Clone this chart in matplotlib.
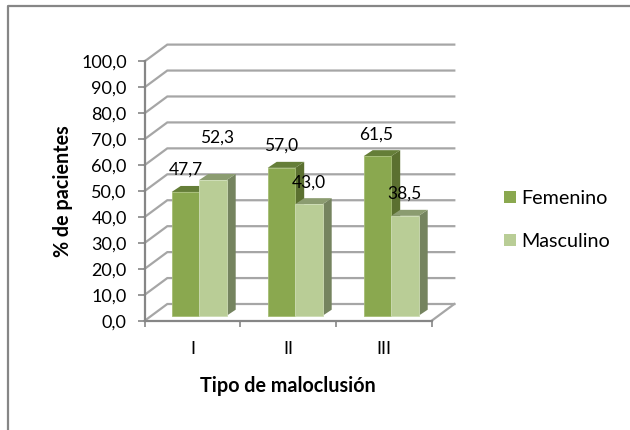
import matplotlib
matplotlib.use("Agg")
import matplotlib.pyplot as plt
from matplotlib.patches import Polygon, Rectangle
from matplotlib.lines import Line2D

categories = ["I", "II", "III"]
femenino = [47.7, 57.0, 61.5]
masculino = [52.3, 43.0, 38.5]
series_names = ["Femenino", "Masculino"]
y_ticks = list(range(0, 101, 10))

W, H = 630, 430
plt.rcParams["font.family"] = ["Lato", "DejaVu Sans"]
fig = plt.figure(figsize=(W / 100, H / 100), dpi=100)
L, R, T, B = 144.7, 431.7, 61.3, 320.7
ax = fig.add_axes([L / W, 1 - B / H, (R - L) / W, (B - T) / H])
ax.set_xlim(0, 3)
ax.set_ylim(0, 100)
ax.patch.set_visible(False)
PX = 3 / (R - L)
PY = 100 / (B - T)
GRID = "#a6a6a6"
AX = "#868686"

# chart border (top and left only)
fig.add_artist(Line2D([7.5 / W, 7.5 / W, 1], [0, 1 - 6 / H, 1 - 6 / H], color=AX, lw=1.6))

# back wall gridlines and side wall
wx, wy = 22.6 * PX, 16.7 * PY
for v in y_ticks:
    ax.plot([0, wx, 3 + wx], [v, v + wy, v + wy], color=GRID, lw=1.6,
            clip_on=False, zorder=1, solid_joinstyle="miter")
ax.plot([3, 3 + wx], [0, wy], color=GRID, lw=1.6, clip_on=False, zorder=1)

for s in ["top", "right"]:
    ax.spines[s].set_visible(False)
for s in ["left", "bottom"]:
    ax.spines[s].set_color(AX)
    ax.spines[s].set_linewidth(1.6)
    ax.spines[s].set_zorder(2)
ax.set_yticks(y_ticks)
ax.set_yticklabels([f"{v:.1f}".replace(".", ",") for v in y_ticks], fontsize=13, color="black")
ax.set_xticks([0, 1, 2, 3])
ax.set_xticklabels([])
ax.set_xticks([0.5, 1.5, 2.5], minor=True)
ax.set_xticklabels(categories, minor=True, fontsize=13)
ax.tick_params(axis="x", which="major", length=4.5, color=AX, width=1.2, direction="out")
ax.tick_params(axis="x", which="minor", length=0, pad=14.5)
ax.tick_params(axis="y", length=5, color=AX, width=1.2, pad=8)
ax.set_ylabel("% de pacientes", fontsize=14.2, fontweight="bold", labelpad=6)
ax.set_xlabel("Tipo de maloclusión", fontsize=14.2, fontweight="bold", labelpad=14)

# 3D bars
bx, by = 7.0 * PX, 5.0 * PY      # front face offset from front axis
dx, dy = 9.0 * PX, 6.0 * PY      # bar depth
bw = 27.5 * PX
first = (171.7 - L) * PX
step = 96.0 * PX
styles = [("#8aa84f", "#a5bd74", "#5b7030", "#657e38"),
          ("#b9cd96", "#cddcb4", "#75845f", "#8b9c70")]

def bar3d(x, v, front, edge, side, top, z):
    y0, y1 = by, v + by
    ax.add_patch(Polygon([(x + bw, y0), (x + bw + dx, y0 + dy), (x + bw + dx, y1 + dy), (x + bw, y1)],
                         fc=side, ec="none", clip_on=False, zorder=z))
    ax.add_patch(Polygon([(x, y1), (x + dx, y1 + dy), (x + bw + dx, y1 + dy), (x + bw, y1)],
                         fc=top, ec="none", clip_on=False, zorder=z))
    ax.add_patch(Rectangle((x, y0), bw, v, fc=front, ec=edge, lw=0.6, clip_on=False, zorder=z + 0.1))

# label offsets from bar top, in pixels
offsets = [[(0, 22), (3.7, 42)], [(0, 22), (0, 22)], [(-1, 22), (-1, 22)]]
for i in range(3):
    x = first + i * step
    bar3d(x, femenino[i], *styles[0], 3)
    bar3d(x + bw, masculino[i], *styles[1], 4)
    for k, v in enumerate([femenino[i], masculino[i]]):
        ox, oy = offsets[i][k]
        ax.text(x + (k + 0.5) * bw + ox * PX, v + by + oy * PY, f"{v:.1f}".replace(".", ","),
                ha="center", va="center", fontsize=12.5, color="black", zorder=6, clip_on=False)

# legend
handles = [Rectangle((0, 0), 1, 1, fc=styles[0][0]), Rectangle((0, 0), 1, 1, fc=styles[1][0])]
fig.legend(handles, series_names, loc="center left", bbox_to_anchor=(504 / W, 1 - 220 / H),
           frameon=False, fontsize=14.2, handlelength=0.6, handleheight=0.6,
           handletextpad=0.25, labelspacing=1.3, borderpad=0, borderaxespad=0)

fig.savefig("out.png", dpi=100, facecolor="white")
